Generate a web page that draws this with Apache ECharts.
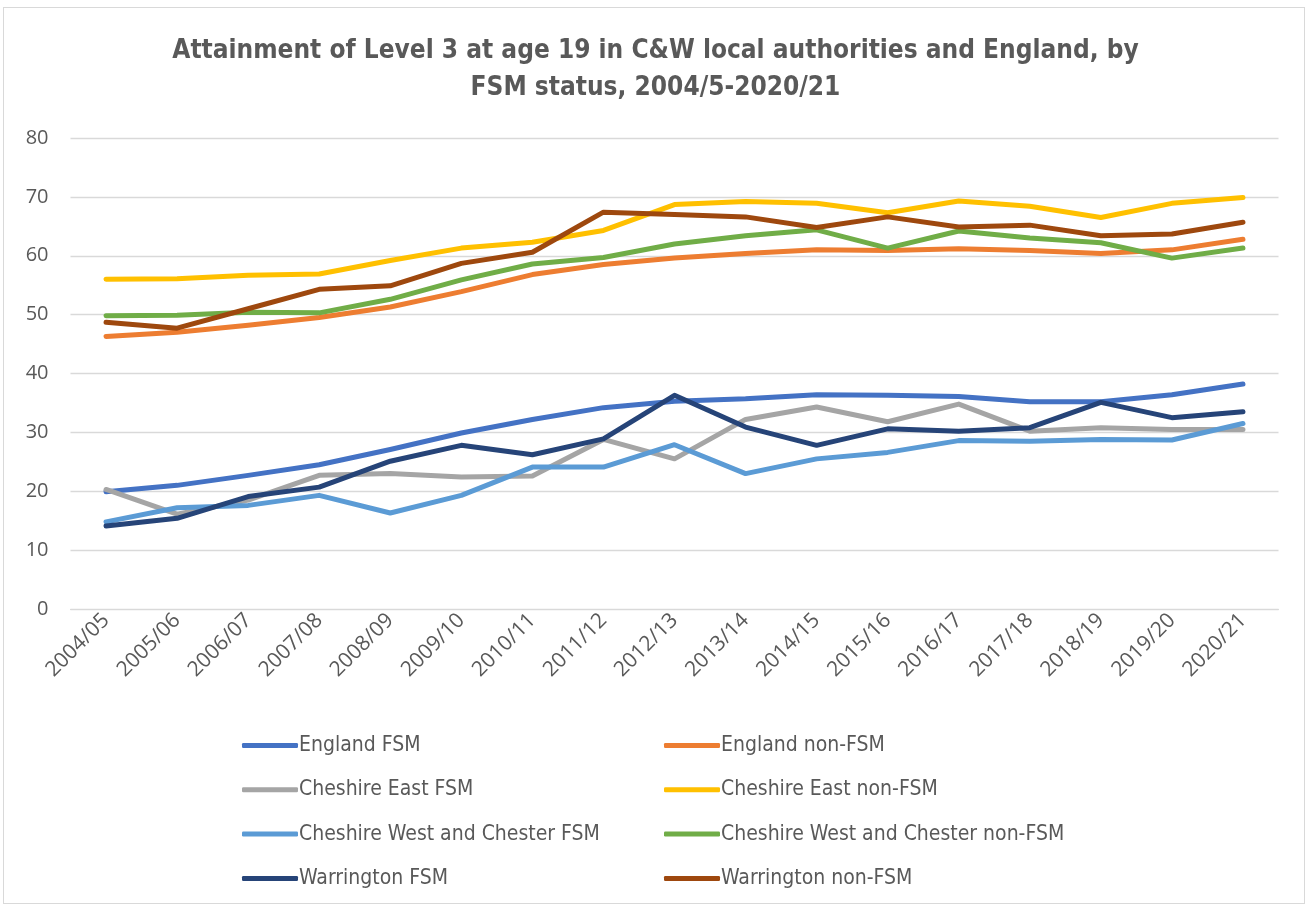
<!DOCTYPE html>
<html>
<head>
<meta charset="utf-8">
<script src="https://cdn.jsdelivr.net/npm/echarts@6/dist/echarts.min.js"></script>
<style>
  html, body { margin: 0; padding: 0; background: #fff; }
  #frame { position: absolute; left: 3px; top: 7px; width: 1302px; height: 897px; border: 1px solid #d9d9d9; box-sizing: border-box; }
  #chart { position: absolute; left: 0; top: 0; width: 1311px; height: 908px; }
</style>
</head>
<body>
<div id="frame"></div>
<div id="chart"></div>
<script>
// Academic years
const years = ['2004/05','2005/06','2006/07','2007/08','2008/09','2009/10','2010/11','2011/12','2012/13','2013/14','2014/15','2015/16','2016/17','2017/18','2018/19','2019/20','2020/21'];

// Percentage attaining Level 3 at age 19
const englandFSM      = [19.9, 21.0, 22.7, 24.5, 27.1, 29.9, 32.2, 34.2, 35.3, 35.7, 36.4, 36.3, 36.1, 35.2, 35.2, 36.4, 38.2];
const englandNonFSM   = [46.3, 47.0, 48.2, 49.5, 51.3, 53.9, 56.8, 58.5, 59.6, 60.4, 61.0, 60.9, 61.2, 60.9, 60.4, 61.0, 62.8];
const chEastFSM       = [20.3, 16.1, 18.5, 22.7, 23.0, 22.4, 22.6, 28.8, 25.5, 32.2, 34.3, 31.8, 34.8, 30.2, 30.8, 30.5, 30.5];
const chEastNonFSM    = [56.0, 56.1, 56.7, 56.9, 59.2, 61.3, 62.3, 64.3, 68.7, 69.2, 68.9, 67.3, 69.3, 68.4, 66.5, 68.9, 69.9];
const cwacFSM         = [14.8, 17.2, 17.6, 19.3, 16.3, 19.3, 24.1, 24.1, 27.9, 23.0, 25.5, 26.6, 28.6, 28.5, 28.8, 28.7, 31.5];
const cwacNonFSM      = [49.8, 49.9, 50.4, 50.3, 52.6, 55.9, 58.6, 59.7, 62.0, 63.4, 64.4, 61.3, 64.2, 63.0, 62.2, 59.6, 61.3];
const warringtonFSM   = [14.1, 15.4, 19.1, 20.7, 25.1, 27.8, 26.2, 28.9, 36.3, 30.9, 27.8, 30.6, 30.2, 30.8, 35.1, 32.5, 33.5];
const warringtonNonFSM= [48.7, 47.7, 51.0, 54.3, 54.9, 58.7, 60.6, 67.4, 67.0, 66.6, 64.8, 66.6, 64.9, 65.2, 63.4, 63.7, 65.7];

const yTicks = [0, 10, 20, 30, 40, 50, 60, 70, 80];

const narrowFont = "'Liberation Sans Narrow', 'DejaVu Sans Condensed', 'Open Sans', sans-serif";
const axisFont = "'Open Sans', 'Noto Sans', sans-serif";
const textColor = '#595959';

const seriesDefs = [
  { name: 'England FSM', data: englandFSM, color: '#4472c4' },
  { name: 'England non-FSM', data: englandNonFSM, color: '#ed7d31' },
  { name: 'Cheshire East FSM', data: chEastFSM, color: '#a5a5a5' },
  { name: 'Cheshire East non-FSM', data: chEastNonFSM, color: '#ffc000' },
  { name: 'Cheshire West and Chester FSM', data: cwacFSM, color: '#5b9bd5' },
  { name: 'Cheshire West and Chester non-FSM', data: cwacNonFSM, color: '#70ad47' },
  { name: 'Warrington FSM', data: warringtonFSM, color: '#264478' },
  { name: 'Warrington non-FSM', data: warringtonNonFSM, color: '#9e480e' }
];

const legendBase = {
  orient: 'vertical',
  top: 730,
  height: 175,
  itemWidth: 56,
  itemHeight: 5,
  itemGap: 23.3,
  icon: 'roundRect',
  textStyle: { fontFamily: narrowFont, fontSize: 21, color: textColor, padding: [0, 0, 0, -4] }
};

const chart = echarts.init(document.getElementById('chart'));
chart.setOption({
  animation: false,
  title: {
    text: 'Attainment of Level 3 at age 19 in C&W local authorities and England, by\nFSM status, 2004/5-2020/21',
    left: 'center',
    top: 28,
    textStyle: { fontFamily: narrowFont, fontSize: 26, fontWeight: 'bold', color: textColor, lineHeight: 37 }
  },
  legend: [
    Object.assign({}, legendBase, { left: 237, data: seriesDefs.filter((s, i) => i % 2 === 0).map(s => s.name) }),
    Object.assign({}, legendBase, { left: 659, data: seriesDefs.filter((s, i) => i % 2 === 1).map(s => s.name) })
  ],
  grid: { left: 70.5, right: 32.5, top: 138, bottom: 299, containLabel: false },
  xAxis: {
    type: 'category',
    data: years,
    boundaryGap: true,
    axisLine: { lineStyle: { color: '#d9d9d9' } },
    axisTick: { show: false },
    axisLabel: { rotate: 45, fontFamily: axisFont, fontSize: 21, color: textColor, margin: 8, interval: 0 }
  },
  yAxis: {
    type: 'value',
    min: yTicks[0],
    max: yTicks[yTicks.length - 1],
    interval: 10,
    axisLine: { show: false },
    axisTick: { show: false },
    axisLabel: { fontFamily: axisFont, fontSize: 20, color: textColor, margin: 22 },
    splitLine: { lineStyle: { color: '#d9d9d9', width: 1.3 } }
  },
  series: seriesDefs.map(s => ({
    name: s.name,
    type: 'line',
    data: s.data,
    showSymbol: false,
    symbol: 'none',
    color: s.color,
    lineStyle: { width: 5, color: s.color, cap: 'round', join: 'round' }
  }))
});
</script>
</body>
</html>
